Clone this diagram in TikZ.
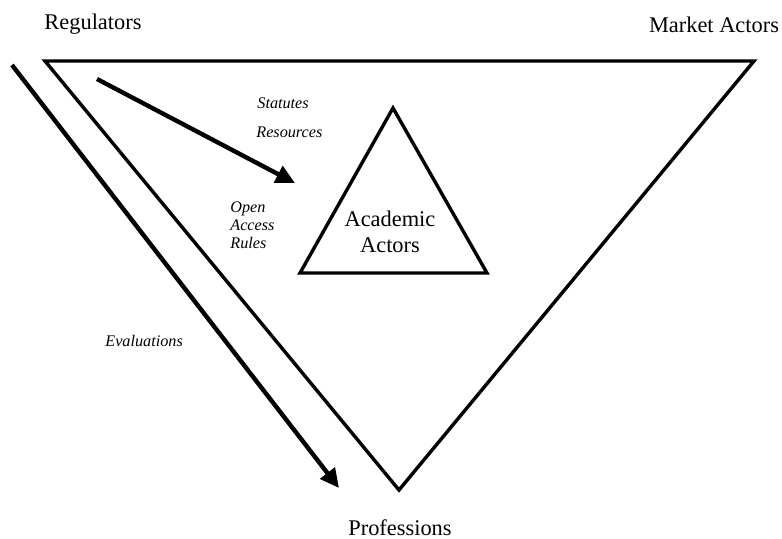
\documentclass[tikz,border=0pt]{standalone}
\usepackage{fontspec}
\setmainfont{Liberation Serif}
\usetikzlibrary{arrows.meta}
\usetikzlibrary{positioning}

\tikzset{
	actor/.style={font=\fontsize{11.2}{13}\selectfont, inner sep=0pt, anchor=base},
	flow/.style={font=\fontsize{8.1}{9}\selectfont\itshape, inner sep=0pt, anchor=base west, align=left},
	field/.style={line width=1.7pt, line join=miter},
	influence/.style={line width=2.2pt, -{Triangle[length=9.5pt, width=9pt]}}
}

\begin{document}
\begin{tikzpicture}[x=0.5pt, y=-0.5pt]
	\useasboundingbox (0,0) rectangle (782,538);

	% the field and the academic actors inside it
	\coordinate (regcorner) at (45,61);
	\coordinate (marketcorner) at (754,61);
	\coordinate (profcorner) at (399,490);
	\draw[field] (regcorner) -- (marketcorner) -- (profcorner) -- cycle;

	\coordinate (acadtop) at (393,108);
	\coordinate (acadleft) at (300,273);
	\coordinate (acadright) at (487,273);
	\draw[field] (acadleft) -- (acadtop) -- (acadright) -- cycle;

	\node[actor] (regulators) at (93,29) {Regulators};
	\node[actor] (market) at (714,32) {Market Actors};
	\node[actor] (professions) at (400,535) {Professions};
	\node[actor, align=center] (academic) at (390,252) {Academic\\Actors};

	\node[flow] (statutes) at (257,108) {Statutes};
	\node[flow] (resources) at (256,137) {Resources};
	\node[flow] (openaccess) at (230,248) {Open\\Access\\Rules};
	\node[flow] (evaluations) at (105,346) {Evaluations};

	% influence of the regulators
	\coordinate (regstart) at (97,79);
	\coordinate (regend) at (295,183);
	\draw[influence] (regstart) -- (regend);

	\coordinate (evalstart) at (12,65);
	\coordinate (evalend) at (339,488);
	\draw[influence] (evalstart) -- (evalend);
\end{tikzpicture}
\end{document}
